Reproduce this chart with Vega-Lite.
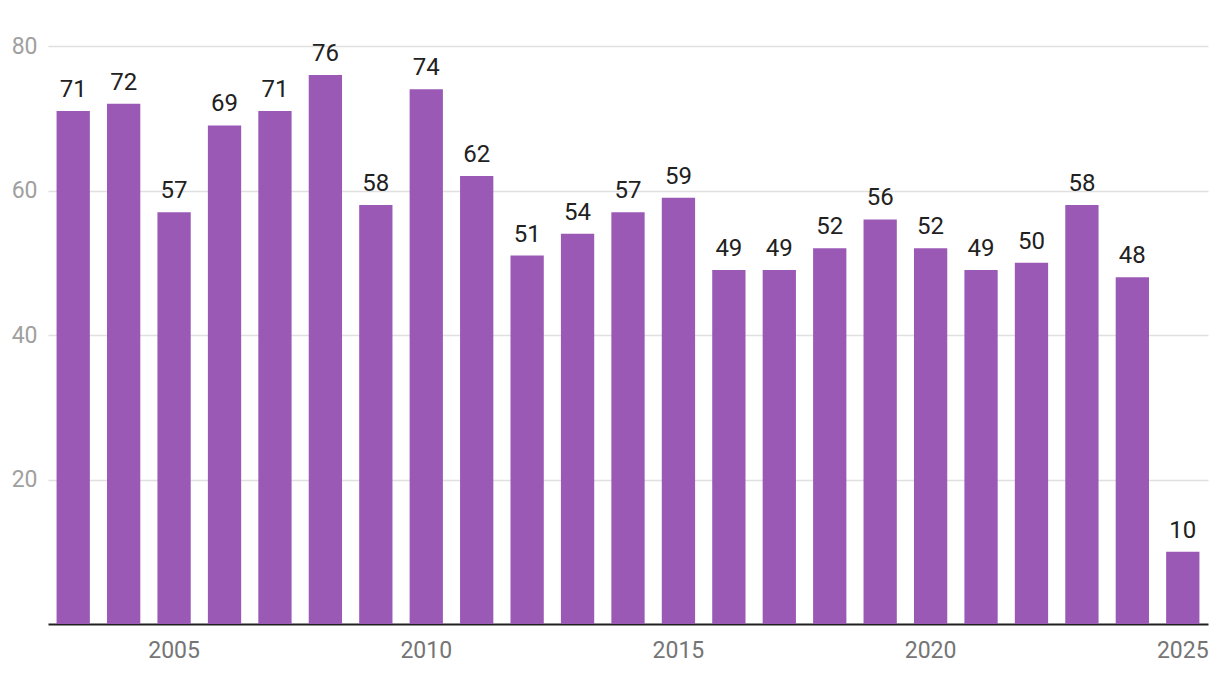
{
  "$schema": "https://vega.github.io/schema/vega-lite/v6.json",
  "width": 1160,
  "height": 578,
  "autosize": "none",
  "padding": {"left": 48, "top": 46, "right": 12, "bottom": 56},
  "background": "white",
  "config": {"view": {"stroke": null}, "font": "Roboto"},
  "data": {"values": [
    {"year": 2003, "value": 71}, {"year": 2004, "value": 72}, {"year": 2005, "value": 57},
    {"year": 2006, "value": 69}, {"year": 2007, "value": 71}, {"year": 2008, "value": 76},
    {"year": 2009, "value": 58}, {"year": 2010, "value": 74}, {"year": 2011, "value": 62},
    {"year": 2012, "value": 51}, {"year": 2013, "value": 54}, {"year": 2014, "value": 57},
    {"year": 2015, "value": 59}, {"year": 2016, "value": 49}, {"year": 2017, "value": 49},
    {"year": 2018, "value": 52}, {"year": 2019, "value": 56}, {"year": 2020, "value": 52},
    {"year": 2021, "value": 49}, {"year": 2022, "value": 50}, {"year": 2023, "value": 58},
    {"year": 2024, "value": 48}, {"year": 2025, "value": 10}
  ]},
  "encoding": {
    "x": {
      "field": "year", "type": "ordinal",
      "scale": {"paddingInner": 0.34, "paddingOuter": 0.17},
      "axis": {
        "title": null, "values": [2005, 2010, 2015, 2020, 2025], "labelAngle": 0,
        "labelFontSize": 23, "labelColor": "#757575", "labelPadding": 15,
        "ticks": false, "domainColor": "#212121", "domainWidth": 2, "grid": false
      }
    },
    "y": {
      "field": "value", "type": "quantitative",
      "scale": {"domain": [0, 80]},
      "axis": {
        "title": null, "values": [20, 40, 60, 80], "labelFontSize": 23,
        "labelColor": "#a0a0a0", "labelPadding": 11, "ticks": false, "domain": false,
        "gridColor": "#e0e0e0", "gridWidth": 1.5
      }
    }
  },
  "layer": [
    {"mark": {"type": "bar", "color": "#9b59b6"}},
    {
      "mark": {"type": "text", "dy": -14, "baseline": "alphabetic", "fontSize": 24, "color": "#212121"},
      "encoding": {"text": {"field": "value", "type": "quantitative"}}
    }
  ]
}
